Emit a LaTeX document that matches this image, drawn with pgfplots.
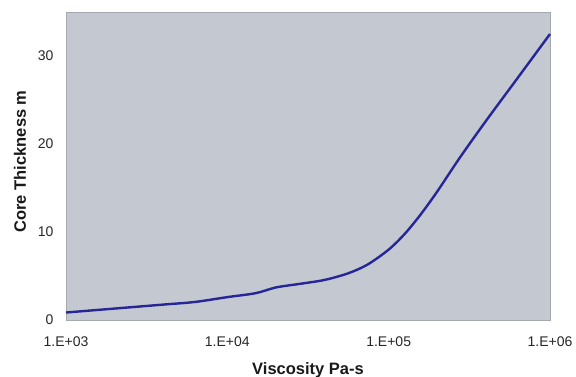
\documentclass[border=0pt]{standalone}
\usepackage{pgfplots}
\pgfplotsset{compat=1.18}
\usepackage{fontspec}
\setmainfont{Liberation Sans}
\definecolor{bgc}{RGB}{196,200,208}
\definecolor{linec}{RGB}{38,38,150}
\definecolor{framec}{RGB}{165,168,175}
\begin{document}
\begin{tikzpicture}[x=1pt,y=1pt]
\path[use as bounding box] (-66,-57) rectangle (510,320);
\begin{axis}[
  at={(0,0)}, anchor=south west,
  scale only axis, width=484pt, height=308pt,
  xmode=log, xmin=1e3, xmax=1e6,
  ymin=0, ymax=35,
  xtick={1e3,1e4,1e5,1e6},
  xticklabels={1.E+03,1.E+04,1.E+05,1.E+06},
  minor xtick={},
  ytick={0,10,20,30},
  major tick length=0pt,
  minor tick length=0pt,
  axis background/.style={fill=bgc},
  axis line style={framec, line width=0.8pt},
  tick label style={font=\fontsize{14}{16}\selectfont, text=black!85},
  /pgf/number format/assume math mode=true,
  xticklabel style={yshift=-13pt},
  yticklabel style={xshift=-9pt},
  xlabel={\textbf{Viscosity Pa-s}},
  ylabel={\textbf{Core Thickness m}},
  label style={font=\fontsize{16.5}{18}\selectfont, text=black!90},
  xlabel style={at={(axis description cs:0.5,-0.162)}, anchor=center},
  ylabel style={at={(axis description cs:-0.095,0.515)}, anchor=center},
  clip=false,
]
\addplot[linec, line width=2.4pt, smooth] coordinates {
(1000,0.85) (2000,1.3) (4000,1.75) (6300,2.05) (10000,2.6) (15000,3.05)
(20000,3.7) (28000,4.1) (40000,4.55) (56000,5.3) (74000,6.3) (100000,8.0)
(126000,9.8) (158000,12.0) (200000,14.6) (275000,18.4) (400000,22.6)
(630000,27.5) (1000000,32.5)
};
\end{axis}
\end{tikzpicture}
\end{document}
